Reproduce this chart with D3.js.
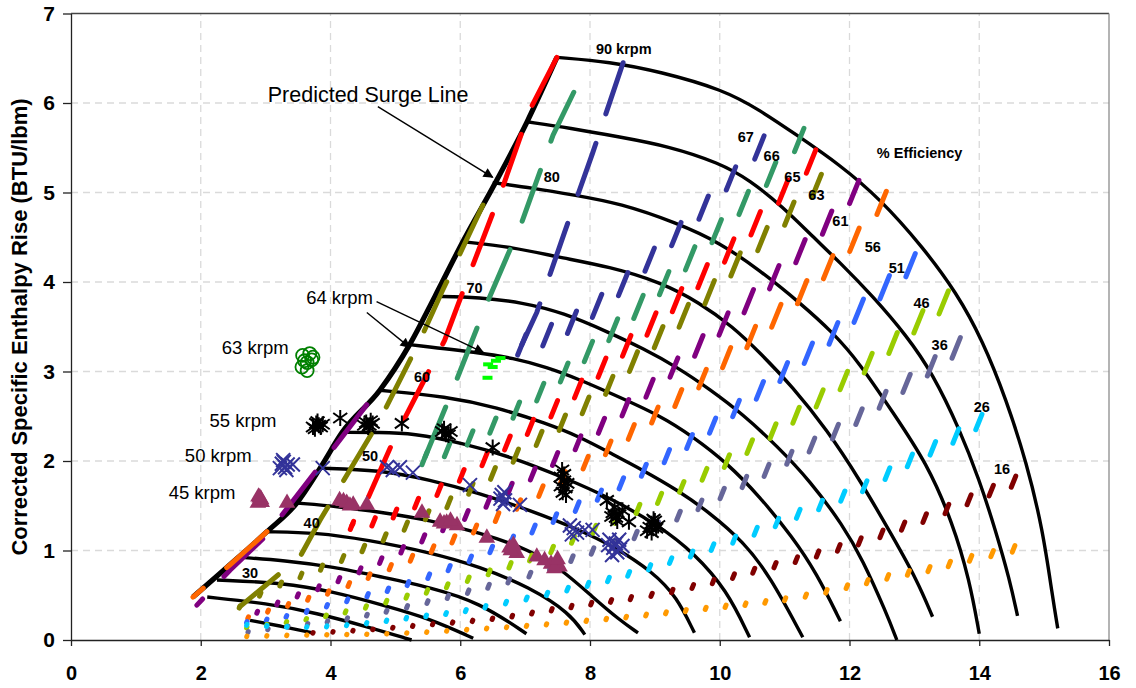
<!DOCTYPE html>
<html>
<head>
<meta charset="utf-8">
<script src="https://cdn.jsdelivr.net/npm/d3@7"></script>
<style>
  body { margin: 0; background: #fff; }
  svg text { font-family: "Liberation Sans", Arial, sans-serif; }
</style>
</head>
<body>
<svg id="chart" width="1136" height="688"></svg>
<script>
// ---- data ----
const xTicks = [0, 2, 4, 6, 8, 10, 12, 14, 16];
const yTicks = [0, 1, 2, 3, 4, 5, 6, 7];

const speedNames = [90, 85, 80, 75, 70, 65, 60, 55, 50, 45, 40, 35, 30, 25, 20];
const speedLines = [
  [[7.49,6.51],[8.31,6.46],[9.08,6.35],[10.05,6.15],[10.62,5.92],[11.19,5.64],[11.85,5.31],[12.47,4.93],[13.13,4.39],[13.65,3.88],[14.05,3.35],[14.42,2.68],[14.73,1.98],[14.98,1.23],[15.13,0.48],[15.21,0.13]],
  [[7.03,5.79],[7.69,5.72],[8.46,5.62],[9.2,5.52],[10.0,5.33],[10.46,5.14],[10.97,4.84],[11.43,4.51],[11.85,4.22],[12.36,3.84],[12.88,3.40],[13.28,2.98],[13.70,2.35],[14.0,1.79],[14.25,1.23],[14.47,0.67],[14.59,0.27]],
  [[6.5,5.11],[7.12,5.05],[7.77,4.97],[8.46,4.88],[9.34,4.66],[10.0,4.44],[10.62,4.13],[11.23,3.77],[11.74,3.44],[12.16,3.09],[12.67,2.54],[13.19,1.98],[13.59,1.31],[13.85,0.67],[14.0,0.07]],
  [[6.04,4.45],[6.81,4.39],[7.49,4.28],[8.31,4.17],[9.08,4.00],[9.69,3.77],[10.2,3.50],[10.62,3.21],[11.12,2.83],[11.65,2.35],[12.16,1.79],[12.67,1.15],[13.04,0.67],[13.28,0.26]],
  [[5.61,3.84],[6.30,3.83],[6.96,3.77],[7.58,3.66],[8.31,3.43],[8.81,3.26],[9.34,3.05],[9.85,2.80],[10.36,2.52],[10.88,2.17],[11.39,1.78],[11.9,1.28],[12.2,0.90],[12.57,0.30],[12.73,0.0]],
  [[5.22,3.30],[6.30,3.21],[6.81,3.15],[7.33,3.05],[7.84,2.91],[8.31,2.76],[9.08,2.51],[9.59,2.27],[10.11,1.98],[10.62,1.60],[11.12,1.15],[11.49,0.75],[11.86,0.21]],
  [[4.76,2.79],[5.79,2.72],[6.56,2.60],[7.33,2.42],[7.84,2.27],[8.31,2.09],[8.81,1.90],[9.34,1.68],[9.85,1.42],[10.36,1.10],[10.77,0.72],[11.28,0.03]],
  [[4.18,2.32],[4.76,2.32],[5.27,2.31],[6.04,2.20],[6.81,2.04],[7.58,1.82],[8.31,1.59],[9.08,1.27],[9.59,0.98],[10.11,0.56],[10.46,0.03]],
  [[3.84,1.92],[4.76,1.90],[5.53,1.79],[6.30,1.64],[7.07,1.45],[7.84,1.23],[8.38,1.04],[8.97,0.76],[9.34,0.48],[9.61,0.08]],
  [[3.48,1.53],[4.14,1.49],[4.76,1.43],[5.53,1.34],[6.30,1.20],[7.07,1.01],[7.58,0.78],[8.04,0.48],[8.46,0.22],[8.74,0.08]],
  [[3.02,1.21],[3.79,1.20],[4.56,1.12],[5.53,0.98],[6.30,0.82],[7.07,0.59],[7.69,0.30],[7.92,0.06]],
  [[2.68,0.92],[3.27,0.89],[4.04,0.82],[4.81,0.70],[5.53,0.59],[6.30,0.42],[7.02,0.07]],
  [[2.25,0.67],[3.27,0.64],[4.04,0.54],[4.81,0.39],[5.53,0.24],[6.2,0.02]],
  [[2.1,0.48],[3.02,0.41],[3.79,0.30],[4.56,0.15],[5.25,0.0]],
  [[2.76,0.22],[3.27,0.15],[3.73,0.08]]
];
const surgeLine = [[1.88,0.48],[2.45,0.84],[3.02,1.21],[3.48,1.53],[3.84,1.92],[4.18,2.32],[4.76,2.79],[5.22,3.30],[5.61,3.84],[6.04,4.45],[6.52,5.08],[7.03,5.79],[7.49,6.51]];

const speedLabelText = ["90 krpm", "80", "70", "60", "50", "40", "30"];
const speedLabelPos = [[8.52,6.60],[7.41,5.17],[6.22,3.93],[5.41,2.94],[4.61,2.06],[3.71,1.31],[2.76,0.75]];

const effLevels = [67, 66, 65, 63, 61, 56, 51, 46, 36, 26, 16, 6];
const effLabelText = ["67", "66", "65", "63", "61", "56", "51", "46", "36", "26", "16"];
const effLabelPos = [[10.4,5.62],[10.8,5.41],[11.12,5.17],[11.49,4.97],[11.86,4.68],[12.36,4.39],[12.73,4.16],[13.11,3.77],[13.39,3.30],[14.04,2.60],[14.35,1.91]];

// branch of each efficiency contour that runs along the surge line
const effLeft = [
  [[8.51,6.45],[8.04,5.44],[7.61,4.56],[7.18,3.66],[6.95,3.30]],
  [[7.75,6.12],[7.43,5.64],[6.95,4.67],[6.38,3.71],[5.87,2.77],[5.45,2.03]],
  [[7.49,6.51],[7.07,5.92],[6.64,5.03],[6.18,4.16],[5.76,3.35],[4.99,2.26],[4.58,1.59],[4.33,1.28]],
  [[6.35,4.86],[5.73,3.91],[5.38,3.35],[4.76,2.46],[3.84,1.34],[3.53,0.93],[2.60,0.37]],
  [[4.56,2.63],[3.79,1.90],[3.0,1.16],[2.45,0.78],[1.94,0.39]],
  [[3.02,1.21],[2.45,0.84],[1.88,0.48]],
  [], [], [], [], [], []
];
// branch that runs out to the right towards the 90 krpm line
const effRight = [
  [[6.95,3.30],[7.38,3.41],[7.73,3.55],[8.10,3.72],[8.41,3.91],[8.84,4.19],[9.23,4.47],[9.65,4.75],[10.08,5.08],[10.46,5.39],[10.82,5.66],[10.96,5.82]],
  [[5.45,2.03],[5.76,2.10],[5.96,2.19],[6.30,2.31],[6.66,2.46],[7.04,2.66],[7.43,2.88],[7.81,3.12],[8.21,3.37],[8.61,3.63],[9.03,3.91],[9.46,4.2],[9.85,4.49],[10.31,4.84],[10.74,5.16],[11.08,5.45],[11.25,5.61]],
  [[4.33,1.28],[4.64,1.30],[5.05,1.43],[5.42,1.56],[5.82,1.74],[6.21,1.93],[6.56,2.12],[6.95,2.31],[7.38,2.54],[7.80,2.79],[8.18,3.04],[8.6,3.31],[9.0,3.56],[9.40,3.84],[9.88,4.16],[10.31,4.47],[10.72,4.78],[11.12,5.14],[11.46,5.39],[11.62,5.47]],
  [[2.60,0.37],[3.0,0.55],[3.45,0.70],[3.85,0.80],[4.25,0.93],[4.67,1.08],[5.12,1.26],[5.49,1.39],[5.89,1.56],[6.30,1.75],[6.69,1.96],[7.07,2.19],[7.47,2.37],[7.9,2.60],[8.27,2.82],[8.6,3.06],[9.08,3.41],[9.45,3.62],[9.94,3.94],[10.34,4.29],[10.8,4.56],[11.2,4.86],[11.6,5.14],[11.8,5.39]],
  [[2.87,0.31],[3.30,0.45],[3.81,0.58],[4.22,0.70],[4.64,0.84],[5.04,0.98],[5.44,1.14],[5.84,1.30],[6.24,1.45],[6.63,1.63],[7.03,1.81],[7.42,2.0],[7.81,2.20],[8.21,2.41],[8.61,2.63],[9.0,2.86],[9.40,3.11],[9.81,3.37],[10.23,3.64],[10.65,3.92],[11.08,4.22],[11.49,4.53],[11.90,4.86],[12.16,5.08]],
  [[2.73,0.25],[3.10,0.34],[3.61,0.45],[4.02,0.54],[4.45,0.67],[4.81,0.78],[5.17,0.89],[5.53,1.0],[5.94,1.14],[6.35,1.28],[6.75,1.45],[7.15,1.62],[7.52,1.79],[7.89,1.96],[8.29,2.15],[8.69,2.35],[9.09,2.56],[9.49,2.77],[9.85,2.99],[10.25,3.25],[10.72,3.52],[11.11,3.78],[11.59,4.10],[11.97,4.39],[12.31,4.65],[12.5,4.89]],
  [[2.71,0.20],[3.34,0.25],[4.04,0.41],[4.82,0.54],[5.5,0.70],[6.24,0.93],[6.95,1.17],[7.69,1.45],[8.4,1.71],[9.12,2.02],[9.88,2.38],[10.62,2.79],[11.23,3.13],[11.85,3.47],[12.28,3.78],[12.67,4.02],[12.99,4.22],[13.16,4.31]],
  [[2.71,0.14],[3.56,0.22],[4.25,0.31],[4.96,0.45],[5.61,0.56],[6.30,0.72],[7.0,0.89],[7.5,1.03],[8.03,1.23],[8.71,1.45],[9.43,1.71],[10.15,2.01],[10.86,2.35],[11.51,2.68],[12.0,2.95],[12.47,3.18],[12.88,3.46],[13.24,3.65],[13.5,3.80]],
  [[2.73,0.09],[3.53,0.17],[4.14,0.22],[4.81,0.31],[5.49,0.42],[6.12,0.54],[6.81,0.67],[7.3,0.78],[7.77,0.93],[8.77,1.18],[9.43,1.41],[10.15,1.68],[10.85,1.94],[11.54,2.23],[11.97,2.40],[12.40,2.63],[12.8,2.83],[13.24,3.04],[13.56,3.23],[13.84,3.35]],
  [[2.71,0.17],[3.4,0.14],[4.02,0.15],[4.64,0.19],[5.3,0.26],[5.92,0.30],[6.5,0.39],[7.15,0.48],[7.77,0.59],[8.4,0.69],[9.03,0.84],[9.66,0.98],[10.35,1.15],[11.03,1.36],[11.74,1.56],[12.31,1.73],[12.87,1.99],[13.31,2.15],[13.73,2.31],[14.08,2.48],[14.35,2.57]],
  [[3.73,0.08],[4.56,0.11],[5.15,0.15],[5.79,0.19],[6.33,0.22],[6.96,0.28],[7.57,0.36],[8.15,0.42],[8.77,0.48],[9.38,0.56],[10.0,0.67],[10.65,0.80],[11.31,0.92],[12.0,1.06],[12.59,1.21],[13.16,1.36],[13.59,1.49],[14.05,1.63],[14.39,1.73],[14.67,1.81]],
  [[2.71,0.04],[3.73,0.06],[4.45,0.06],[5.35,0.08],[6.19,0.12],[7.12,0.16],[8.03,0.22],[8.92,0.28],[9.82,0.36],[10.72,0.42],[11.39,0.5],[12.05,0.61],[12.7,0.73],[13.19,0.78],[13.59,0.86],[14.0,0.94],[14.47,1.0],[14.81,1.08]]
];

// test points
const t63 = [[3.57,3.18],[3.68,3.20],[3.71,3.13],[3.64,3.10],[3.56,3.05],[3.64,3.01],[3.73,3.16],[3.60,3.12]];
const t64 = [[6.43,3.08],[6.55,3.12],[6.62,3.15],[6.50,3.05],[6.42,2.93]];
const t55 = [[3.73,2.38],[3.78,2.42],[3.82,2.40],[3.88,2.41],[3.76,2.36],[3.80,2.44],[3.85,2.38],
  [4.15,2.48],[4.55,2.43],[4.6,2.40],[4.65,2.42],[4.58,2.38],[4.62,2.45],[4.52,2.40],
  [5.10,2.42],[5.72,2.33],[5.78,2.30],[5.85,2.33],[5.75,2.36],[5.82,2.29],[6.5,2.15],
  [7.57,1.90],[7.6,1.78],[7.62,1.70],[7.58,1.65],[7.55,1.82],[7.65,1.75],[7.6,1.85],[7.63,1.62],[7.55,1.72],
  [8.26,1.56],[8.35,1.42],[8.4,1.37],[8.5,1.45],[8.6,1.32],[8.38,1.48],[8.45,1.40],[8.33,1.38],[8.42,1.33],
  [8.92,1.26],[8.95,1.20],[9.0,1.33],[9.05,1.28],[8.95,1.30],[9.02,1.25],[8.88,1.22],[8.98,1.35]];
const t50 = [[3.27,2.01],[3.34,1.96],[3.22,1.92],[3.42,1.96],[3.25,1.97],[3.30,1.93],[3.28,1.99],[3.32,1.90],
  [3.88,1.92],[4.87,1.93],[4.96,1.90],[5.07,1.93],[5.27,1.87],[6.15,1.73],
  [6.64,1.62],[6.69,1.56],[6.62,1.58],[6.68,1.65],[6.66,1.52],[6.92,1.51],
  [7.69,1.28],[7.80,1.20],[7.75,1.25],[7.72,1.18],[7.92,1.23],[8.04,1.23],
  [8.3,1.12],[8.38,1.06],[8.46,1.01],[8.34,0.95],[8.4,1.08],[8.45,1.12],[8.36,1.03],[8.5,1.05],[8.42,0.98],[8.28,1.06]];
const t45 = [[2.91,1.59],[2.88,1.53],[2.94,1.54],[2.93,1.57],[2.89,1.60],[3.33,1.53],
  [4.14,1.56],[4.25,1.53],[4.35,1.51],[4.56,1.51],[4.2,1.55],[4.3,1.50],
  [5.41,1.42],[5.69,1.32],[5.79,1.31],[5.95,1.28],[5.75,1.30],[5.85,1.33],
  [6.41,1.14],[6.76,1.03],[6.87,0.97],[6.78,1.0],[6.82,1.06],
  [7.18,0.93],[7.3,0.89],[7.49,0.86],[7.53,0.82],[7.4,0.85],[7.45,0.8],[7.5,0.9]];

const testLabelText = ["63 krpm", "55 krpm", "50 krpm", "45 krpm", "64 krpm"];
const testLabelPos = [[2.84,3.27],[2.65,2.45],[2.27,2.06],[2.02,1.65],[4.14,3.83]];

// ---- styles ----
const effColors = ["#333399", "#339966", "#ff0000", "#808000", "#800080", "#ff6600",
                   "#3366ff", "#99cc00", "#666699", "#00ccff", "#800000", "#ff9900"];
const font = '"Liberation Sans", Arial, sans-serif';

const svg = d3.select("#chart");
const x = d3.scaleLinear().domain([0, 16]).range([71, 1109]);
const y = d3.scaleLinear().domain([0, 7]).range([640, 13.5]);

// arrow head
svg.append("defs").append("marker")
  .attr("id", "arr")
  .attr("markerUnits", "userSpaceOnUse")
  .attr("viewBox", "0 -5 10 10")
  .attr("refX", 9).attr("refY", 0)
  .attr("markerWidth", 13).attr("markerHeight", 10)
  .attr("orient", "auto")
  .append("path").attr("d", "M0,-5L10,0L0,5Z").attr("fill", "#000");

// grid
svg.append("g").selectAll("line")
  .data(xTicks.filter(d => d > 0 && d < 16)).join("line")
  .attr("x1", d => x(d)).attr("x2", d => x(d))
  .attr("y1", y(0)).attr("y2", y(7))
  .attr("stroke", "#dadada").attr("stroke-width", 1.3).attr("stroke-dasharray", "7,5");
svg.append("g").selectAll("line")
  .data(yTicks.filter(d => d > 0 && d < 7)).join("line")
  .attr("y1", d => y(d)).attr("y2", d => y(d))
  .attr("x1", x(0)).attr("x2", x(16))
  .attr("stroke", "#dadada").attr("stroke-width", 1.3).attr("stroke-dasharray", "7,5");

// frame top / right
svg.append("line").attr("x1", x(0)).attr("x2", x(16)).attr("y1", y(7)).attr("y2", y(7))
  .attr("stroke", "#444").attr("stroke-width", 1.3);
svg.append("line").attr("x1", x(16)).attr("x2", x(16)).attr("y1", y(7)).attr("y2", y(0))
  .attr("stroke", "#8c8c8c").attr("stroke-width", 1.3);

// axes
svg.append("g")
  .attr("transform", `translate(0,${y(0)})`)
  .call(d3.axisBottom(x).tickValues(xTicks).tickFormat(d3.format("d")).tickSize(6).tickSizeOuter(0).tickPadding(20))
  .attr("font-family", font).attr("font-size", 20).attr("font-weight", "bold")
  .call(g => g.selectAll("path,line").attr("stroke", "#222").attr("stroke-width", 1.3));
svg.append("g")
  .attr("transform", `translate(${x(0)},0)`)
  .call(d3.axisLeft(y).tickValues(yTicks).tickFormat(d3.format("d")).tickSize(8).tickSizeOuter(0).tickPadding(8))
  .attr("font-family", font).attr("font-size", 21).attr("font-weight", "bold")
  .call(g => g.selectAll("path,line").attr("stroke", "#222").attr("stroke-width", 1.3));

svg.append("text")
  .attr("transform", `translate(27,327) rotate(-90)`)
  .attr("text-anchor", "middle")
  .attr("font-size", 22).attr("font-weight", "bold")
  .text("Corrected Specific Enthalpy Rise (BTU/lbm)");

// speed lines
const smooth = d3.line().x(d => x(d[0])).y(d => y(d[1])).curve(d3.curveBasis);
const straight = d3.line().x(d => x(d[0])).y(d => y(d[1]));
const monotone = d3.line().x(d => x(d[0])).y(d => y(d[1])).curve(d3.curveMonotoneX);

svg.append("g").selectAll("path")
  .data(speedLines).join("path")
  .attr("d", smooth)
  .attr("fill", "none").attr("stroke", "#000").attr("stroke-width", 3.4);

svg.append("path")
  .attr("d", monotone(surgeLine))
  .attr("fill", "none").attr("stroke", "#000").attr("stroke-width", 5.2);

// efficiency contours
const effG = svg.append("g");
const tickAngle = 68 * Math.PI / 180;

function tickRow(g, pts, color) {
  if (!pts.length) return;
  const guide = g.append("path").attr("d", smooth(pts)).attr("fill", "none");
  const node = guide.node();
  const total = node.getTotalLength();
  let last = null;
  for (let s = 0; s <= total; s += 1) {
    const p = node.getPointAtLength(s);
    const v = y.invert(p.y);
    const step = 19 + 1.6 * v;
    if (last !== null && Math.abs(p.x - last) < step) continue;
    last = p.x;
    const len = Math.max(0.5, Math.min(5 + 6.8 * v, 30) - 5) / 2;
    const ux = Math.cos(tickAngle) * len, uy = Math.sin(tickAngle) * len;
    g.append("line")
      .attr("x1", p.x - ux).attr("y1", p.y + uy)
      .attr("x2", p.x + ux).attr("y2", p.y - uy)
      .attr("stroke", color).attr("stroke-width", 5).attr("stroke-linecap", "round");
  }
  guide.remove();
}

effLevels.forEach((lev, i) => {
  const g = effG.append("g");
  if (effLeft[i].length) {
    g.append("path")
      .attr("d", straight(effLeft[i]))
      .attr("fill", "none").attr("stroke", effColors[i]).attr("stroke-width", 5)
      .attr("stroke-linecap", "round").attr("stroke-dasharray", "54,31");
  }
  tickRow(g, effRight[i], effColors[i]);
});

// test data
const mk = svg.append("g");
mk.selectAll("circle.t63").data(t63).join("circle")
  .attr("cx", d => x(d[0])).attr("cy", d => y(d[1])).attr("r", 6.5)
  .attr("fill", "none").attr("stroke", "#008000").attr("stroke-width", 1.8);
mk.selectAll("line.t64").data(t64).join("line")
  .attr("x1", d => x(d[0]) - 5).attr("x2", d => x(d[0]) + 5)
  .attr("y1", d => y(d[1])).attr("y2", d => y(d[1]))
  .attr("stroke", "#00ff00").attr("stroke-width", 4);
mk.selectAll("path.t45").data(t45).join("path")
  .attr("transform", d => `translate(${x(d[0])},${y(d[1])})`)
  .attr("d", d3.symbol(d3.symbolTriangle, 120))
  .attr("fill", "#993366");
mk.selectAll("path.t50").data(t50).join("path")
  .attr("transform", d => `translate(${x(d[0])},${y(d[1])})`)
  .attr("d", "M-7,-7L7,7M-7,7L7,-7")
  .attr("fill", "none").attr("stroke", "#333399").attr("stroke-width", 2);
mk.selectAll("path.t55").data(t55).join("path")
  .attr("transform", d => `translate(${x(d[0])},${y(d[1])})`)
  .attr("d", "M0,-8L0,8M-7,-5L7,5M-7,5L7,-5")
  .attr("fill", "none").attr("stroke", "#000").attr("stroke-width", 2);

// annotations
svg.append("g").selectAll("text")
  .data(speedLabelText).join("text")
  .attr("x", (d, i) => x(speedLabelPos[i][0])).attr("y", (d, i) => y(speedLabelPos[i][1]))
  .attr("dy", "0.35em").attr("text-anchor", "middle")
  .attr("font-size", 14.5).attr("font-weight", "bold")
  .text(d => d);

svg.append("g").selectAll("text")
  .data(effLabelText).join("text")
  .attr("x", (d, i) => x(effLabelPos[i][0])).attr("y", (d, i) => y(effLabelPos[i][1]))
  .attr("dy", "0.35em").attr("text-anchor", "middle")
  .attr("font-size", 14.5).attr("font-weight", "bold")
  .text(d => d);

svg.append("text")
  .attr("x", x(13.08)).attr("y", y(5.44)).attr("dy", "0.35em")
  .attr("text-anchor", "middle").attr("font-size", 14.5).attr("font-weight", "bold")
  .text("% Efficiency");

svg.append("g").selectAll("text")
  .data(testLabelText).join("text")
  .attr("x", (d, i) => x(testLabelPos[i][0])).attr("y", (d, i) => y(testLabelPos[i][1]))
  .attr("dy", "0.35em").attr("text-anchor", "middle")
  .attr("font-size", 18.5)
  .text(d => d);

svg.append("text")
  .attr("x", x(4.58)).attr("y", y(6.09)).attr("dy", "0.35em")
  .attr("text-anchor", "middle").attr("font-size", 21.5)
  .text("Predicted Surge Line");

// arrows
const arrows = [
  [[4.73,5.96],[6.5,5.17]],
  [[4.56,3.66],[5.22,3.27]],
  [[4.71,3.78],[6.36,3.21]]
];
svg.append("g").selectAll("line")
  .data(arrows).join("line")
  .attr("x1", d => x(d[0][0])).attr("y1", d => y(d[0][1]))
  .attr("x2", d => x(d[1][0])).attr("y2", d => y(d[1][1]))
  .attr("stroke", "#000").attr("stroke-width", 1.4)
  .attr("marker-end", "url(#arr)");
</script>
</body>
</html>
